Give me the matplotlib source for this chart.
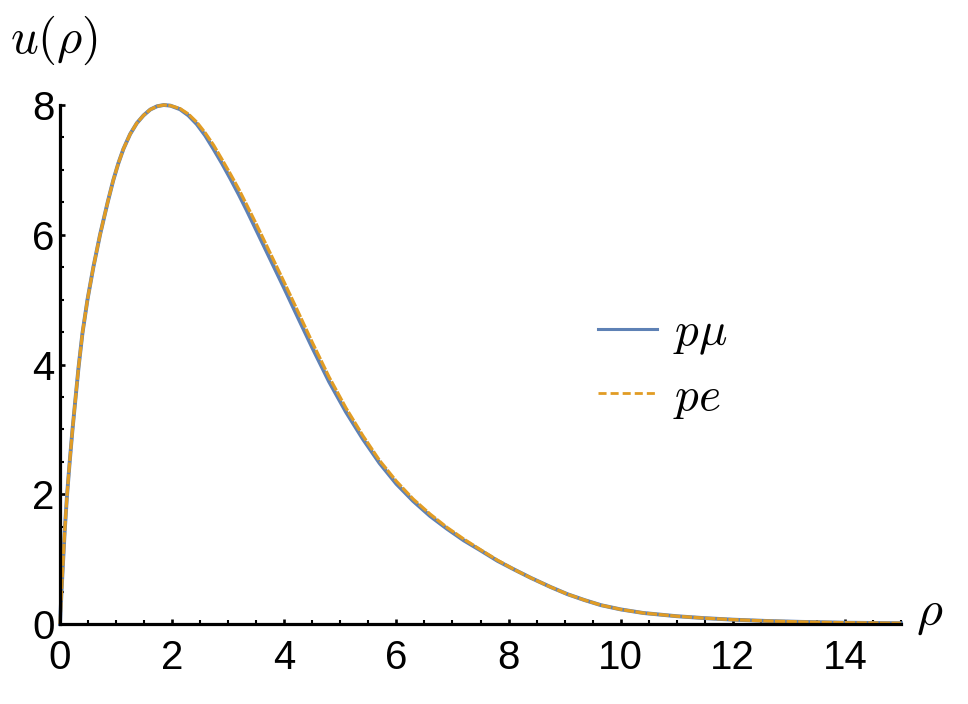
import matplotlib
matplotlib.use("Agg")
import matplotlib.pyplot as plt
from matplotlib.lines import Line2D
from matplotlib.ticker import MultipleLocator

# values
rho = [0, 0.03, 0.054, 0.083, 0.125, 0.17, 0.22, 0.27, 0.33, 0.4, 0.49,
       0.595, 0.714, 0.85, 0.95, 1.04, 1.13, 1.25, 1.37, 1.49, 1.61, 1.73,
       1.85, 1.97, 2.14, 2.29, 2.44, 2.59, 2.74, 2.89, 3.04, 3.19, 3.33, 3.5,
       3.75, 4.0, 4.25, 4.5, 4.8, 5.1, 5.4, 5.7, 6.0, 6.3, 6.6, 6.9, 7.2,
       7.5, 7.8, 8.1, 8.4, 8.75, 9.05, 9.35, 9.65, 10.0, 10.4, 11.0, 11.5,
       12.0, 12.6, 13.2, 14.0, 15.0]
u_pmu = [0, 0.55, 0.95, 1.42, 1.98, 2.47, 2.97, 3.42, 3.95, 4.48, 5.0,
         5.5, 6.0, 6.5, 6.84, 7.1, 7.32, 7.55, 7.72, 7.84, 7.93, 7.98,
         8.0, 7.99, 7.935, 7.84, 7.705, 7.53, 7.32, 7.1, 6.865, 6.62, 6.38, 6.075,
         5.625, 5.175, 4.715, 4.26, 3.735, 3.27, 2.855, 2.48, 2.16, 1.895, 1.665,
         1.47, 1.29, 1.135, 0.975, 0.84, 0.71, 0.57, 0.46, 0.37, 0.29, 0.225,
         0.17, 0.12, 0.09, 0.067, 0.047, 0.033, 0.02, 0.012]
u_pe = [0, 0.55, 0.95, 1.42, 1.98, 2.47, 2.97, 3.42, 3.95, 4.48, 5.0,
        5.5, 6.0, 6.5, 6.84, 7.1, 7.32, 7.55, 7.72, 7.84, 7.93, 7.98,
        8.0, 7.99, 7.945, 7.86, 7.735, 7.57, 7.38, 7.16, 6.935, 6.7, 6.46, 6.165,
        5.715, 5.265, 4.805, 4.34, 3.805, 3.33, 2.905, 2.52, 2.2, 1.925, 1.695,
        1.49, 1.31, 1.145, 0.985, 0.84, 0.71, 0.57, 0.46, 0.37, 0.29, 0.225,
        0.17, 0.12, 0.09, 0.067, 0.047, 0.033, 0.02, 0.012]
labels = [r"$p\mu$", r"$pe$"]

blue = "#5E81B5"
orange = "#E19C24"

plt.rcParams["font.family"] = ["Liberation Sans", "DejaVu Sans"]
plt.rcParams["mathtext.fontset"] = "cm"

W, H = 968, 704
fig = plt.figure(figsize=(W / 100, H / 100), dpi=100)
ax = fig.add_axes([60 / W, 1 - 624 / H, 841 / W, 519 / H])

ax.plot(rho, u_pmu, color=blue, lw=2.8, clip_on=False, zorder=3,
        solid_joinstyle="round")
ax.plot(rho, u_pe, color=orange, lw=2.3, dashes=(3.2, 0.45), clip_on=False,
        zorder=4, dash_joinstyle="round")

ax.set_xlim(0, 15)
ax.set_ylim(0, 8)
ax.xaxis.set_major_locator(MultipleLocator(2))
ax.xaxis.set_minor_locator(MultipleLocator(0.5))
ax.yaxis.set_major_locator(MultipleLocator(2))
ax.yaxis.set_minor_locator(MultipleLocator(0.5))

for side in ["top", "right"]:
    ax.spines[side].set_visible(False)
for side in ["left", "bottom"]:
    ax.spines[side].set_linewidth(2.3)
    ax.spines[side].set_zorder(5)

ax.tick_params(which="major", direction="in", length=3.8, width=1.9, labelsize=29)
ax.tick_params(which="minor", direction="in", length=2.9, width=1.5)
ax.tick_params(axis="x", which="major", pad=11)
ax.tick_params(axis="y", which="major", pad=4)

handles = [
    Line2D([], [], color=blue, lw=2.2),
    Line2D([], [], color=orange, lw=2.0, dashes=(2.9, 1.45)),
]
ax.legend(handles, labels, loc="center left", bbox_to_anchor=(0.64, 0.497),
          frameon=False, fontsize=34, handlelength=1.25, handletextpad=0.33,
          labelspacing=0.4, borderpad=0, borderaxespad=0)

fig.text(10 / W, 1 - 40 / H, r"$u(\rho)$", fontsize=35, ha="left", va="center")
fig.text(916 / W, 1 - 614 / H, r"$\rho$", fontsize=36, ha="left", va="center")

fig.savefig("out.png", dpi=100)
